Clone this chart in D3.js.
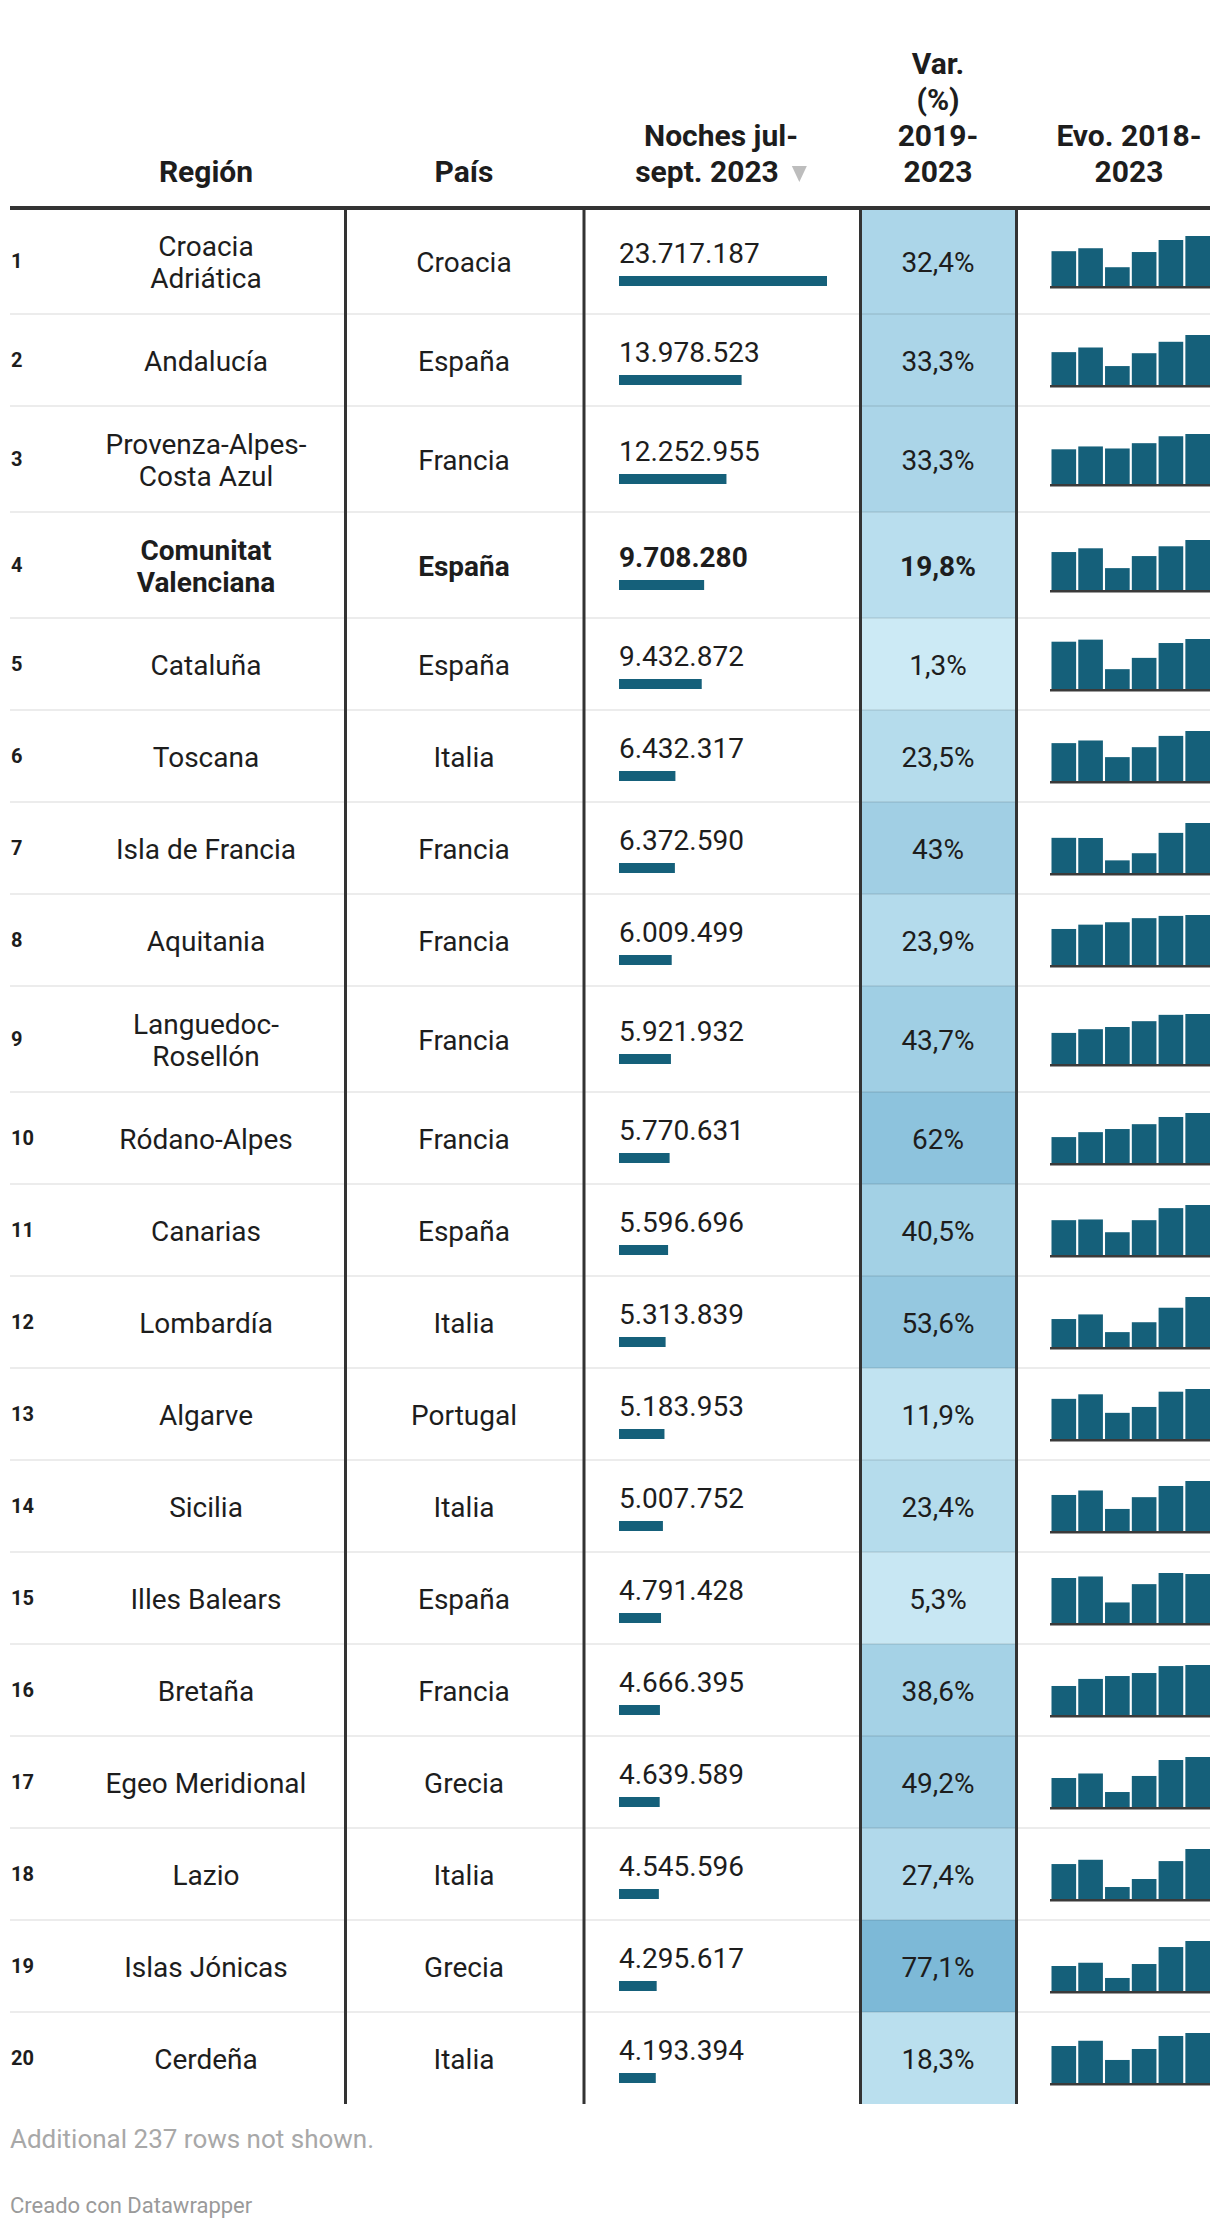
<!DOCTYPE html>
<html><head><meta charset="utf-8">
<script src="https://cdn.jsdelivr.net/npm/d3@7"></script>
<style>
body{margin:0;background:#fff;}
svg{display:block;font-family:Roboto, "Noto Sans", sans-serif;}
</style>
</head><body>
<svg id="chart" width="1220" height="2230"></svg>
<script>
// ---------------- DATA ----------------
const ranks = [1,2,3,4,5,6,7,8,9,10,11,12,13,14,15,16,17,18,19,20];
const regions = [
  "Croacia\nAdriática", "Andalucía", "Provenza-Alpes-\nCosta Azul", "Comunitat\nValenciana",
  "Cataluña", "Toscana", "Isla de Francia", "Aquitania", "Languedoc-\nRosellón", "Ródano-Alpes",
  "Canarias", "Lombardía", "Algarve", "Sicilia", "Illes Balears", "Bretaña",
  "Egeo Meridional", "Lazio", "Islas Jónicas", "Cerdeña"
];
const countries = [
  "Croacia","España","Francia","España","España","Italia","Francia","Francia","Francia","Francia",
  "España","Italia","Portugal","Italia","España","Francia","Grecia","Italia","Grecia","Italia"
];
const nights = [
  23717187, 13978523, 12252955, 9708280, 9432872, 6432317, 6372590, 6009499, 5921932, 5770631,
  5596696, 5313839, 5183953, 5007752, 4791428, 4666395, 4639589, 4545596, 4295617, 4193394
];
const variation = [
  32.4, 33.3, 33.3, 19.8, 1.3, 23.5, 43, 23.9, 43.7, 62,
  40.5, 53.6, 11.9, 23.4, 5.3, 38.6, 49.2, 27.4, 77.1, 18.3
];
const highlighted = ["Comunitat\nValenciana"];
const years = ["2018","2019","2020","2021","2022","2023"];
// Noches jul-sept (millones), 2018-2023, estimadas del gráfico
const evo = [
  [16.5, 17.9, 8.9, 16.1, 21.8, 23.7],
  [9.2, 10.5, 5.3, 8.9, 12.1, 14.0],
  [8.5, 9.2, 8.7, 10.0, 11.7, 12.25],
  [7.37, 8.10, 4.25, 6.59, 8.49, 9.71],
  [8.92, 9.31, 3.74, 5.87, 8.67, 9.43],
  [4.87, 5.21, 3.07, 4.35, 5.80, 6.43],
  [4.48, 4.46, 1.61, 2.52, 5.11, 6.37],
  [4.33, 4.85, 5.14, 5.63, 5.90, 6.01],
  [3.68, 4.12, 4.38, 5.07, 5.82, 5.92],
  [2.99, 3.56, 3.92, 4.48, 5.31, 5.77],
  [3.90, 3.98, 2.55, 3.90, 5.25, 5.60],
  [2.97, 3.46, 1.58, 2.63, 4.17, 5.31],
  [4.16, 4.63, 2.71, 3.32, 4.90, 5.18],
  [3.61, 4.06, 2.21, 3.39, 4.51, 5.01],
  [4.40, 4.55, 2.01, 3.80, 4.89, 4.79],
  [2.71, 3.37, 3.64, 3.92, 4.57, 4.67],
  [2.69, 3.11, 1.39, 2.88, 4.36, 4.64],
  [3.18, 3.57, 1.09, 1.82, 3.45, 4.55],
  [2.15, 2.43, 1.12, 2.32, 3.78, 4.30],
  [3.10, 3.54, 1.93, 2.85, 3.94, 4.19]
];
const headerRegion = ["Región"];
const headerCountry = ["País"];
const headerNights = ["Noches jul-", "sept. 2023"];
const headerVar = ["Var.", "(%)", "2019-", "2023"];
const headerEvo = ["Evo. 2018-", "2023"];
const footNote = "Additional 237 rows not shown.";
const credit = "Creado con Datawrapper";

// ---------------- LAYOUT ----------------
const svg = d3.select("#chart");
const left = 10, right = 1210;
const headerLineY = 208;
const colLines = [345.5, 584, 860.5, 1016.5];
const colRegionC = 206, colCountryC = 464, colNightsX = 619, colNightsC = 721, colVarC = 938, colEvoC = 1129;
const barColor = "#15607a";
const textColor = "#1d1d1d";
const ruleColor = "#333333";

const loc = d3.formatLocale({decimal: ",", thousands: ".", grouping: [3], currency: ["", "€"]});
const fmtInt = loc.format(",d");
const fmtPct = v => loc.format(".1~f")(v) + "%";

const rowH = regions.map(r => r.split("\n").length > 1 ? 106 : 92);
const rowTop = [];
let acc = headerLineY;
rowH.forEach(h => { rowTop.push(acc); acc += h; });
const tableBottom = acc;

const xBar = d3.scaleLinear().domain([0, d3.max(nights)]).range([0, 208]);
const color = d3.scaleLinear().domain([d3.min(variation), d3.max(variation)]).range(["#cceaf5", "#7db9d7"]);
const xSpark = d3.scaleBand().domain(years).range([1051.5, 1210]).paddingInner(0.08);

// ---------------- HEADER ----------------
const hdr = svg.append("g").attr("font-weight", 700).attr("font-size", 30).attr("fill", textColor);
const lastBase = 182, hLine = 36;
function headerBlock(lines, cx, arrow) {
  lines.forEach((t, i) => {
    const y = lastBase - (lines.length - 1 - i) * hLine;
    if (arrow && i === lines.length - 1) {
      const txt = hdr.append("text").attr("y", y).attr("text-anchor", "start").text(t);
      const tw = txt.node().getComputedTextLength();
      const gap = 13, aw = 15, total = tw + gap + aw;
      const x0 = cx - total / 2;
      txt.attr("x", x0);
      const ax = x0 + tw + gap;
      hdr.append("path")
        .attr("d", `M${ax},${y - 16}L${ax + aw},${y - 16}L${ax + aw / 2},${y}Z`)
        .attr("fill", "#bdbdbd");
    } else {
      hdr.append("text").attr("x", cx).attr("y", y).attr("text-anchor", "middle").text(t);
    }
  });
}
headerBlock(headerRegion, colRegionC);
headerBlock(headerCountry, colCountryC);
headerBlock(headerNights, colNightsC, true);
headerBlock(headerVar, colVarC);
headerBlock(headerEvo, colEvoC);

// ---------------- ROWS ----------------
const data = ranks.map((r, i) => ({
  rank: r, region: regions[i], country: countries[i], nights: nights[i], variation: variation[i],
  evo: evo[i], top: rowTop[i], h: rowH[i], bold: highlighted.includes(regions[i])
}));

// variation backgrounds
svg.append("g").selectAll("rect").data(data).join("rect")
  .attr("x", colLines[2]).attr("width", colLines[3] - colLines[2])
  .attr("y", d => d.top).attr("height", d => d.h)
  .attr("fill", d => color(d.variation));

// row separators
svg.append("g").selectAll("rect").data(data.slice(1)).join("rect")
  .attr("x", left).attr("width", right - left)
  .attr("y", d => d.top - 1).attr("height", 2)
  .attr("fill", "rgba(0,0,0,0.075)");

const rows = svg.append("g").selectAll("g").data(data).join("g")
  .attr("transform", d => `translate(0,${d.top + d.h / 2})`);

// rank
rows.append("text").attr("x", 11).attr("y", 7)
  .attr("font-size", 20).attr("font-weight", 700).attr("fill", textColor)
  .text(d => d.rank);

// region (multi-line)
rows.each(function(d) {
  const g = d3.select(this);
  const lines = d.region.split("\n");
  const t = g.append("text").attr("text-anchor", "middle").attr("font-size", 28)
    .attr("font-weight", d.bold ? 700 : 400).attr("fill", textColor);
  lines.forEach((ln, i) => {
    t.append("tspan").attr("x", colRegionC).attr("y", 10.5 + (i - (lines.length - 1) / 2) * 32).text(ln);
  });
});

// country
rows.append("text").attr("x", colCountryC).attr("y", 10.5).attr("text-anchor", "middle")
  .attr("font-size", 28).attr("font-weight", d => d.bold ? 700 : 400).attr("fill", textColor)
  .text(d => d.country);

// nights value + bar
rows.append("text").attr("x", colNightsX).attr("y", 2)
  .attr("font-size", 28).attr("font-weight", d => d.bold ? 700 : 400).attr("fill", textColor)
  .text(d => fmtInt(d.nights));
rows.append("rect").attr("x", colNightsX).attr("y", 15).attr("height", 10)
  .attr("width", d => xBar(d.nights)).attr("fill", barColor);

// variation text
rows.append("text").attr("x", colVarC).attr("y", 10.5).attr("text-anchor", "middle")
  .attr("font-size", 28).attr("font-weight", d => d.bold ? 700 : 400).attr("fill", textColor)
  .text(d => fmtPct(d.variation));

// sparklines
rows.each(function(d) {
  const g = d3.select(this);
  const y = d3.scaleLinear().domain([0, d3.max(d.evo)]).range([25, -25]);
  g.append("g").selectAll("rect").data(years.map((yr, k) => ({yr, v: d.evo[k]}))).join("rect")
    .attr("x", e => xSpark(e.yr)).attr("width", xSpark.bandwidth())
    .attr("y", e => y(e.v)).attr("height", e => y(0) - y(e.v))
    .attr("fill", barColor);
  g.append("rect").attr("x", 1050).attr("width", right - 1050).attr("y", y(0)).attr("height", 2.5).attr("fill", "#3a3a3a");
});

// header rule + column rules
svg.append("rect").attr("x", left).attr("width", right - left).attr("y", headerLineY - 2).attr("height", 4).attr("fill", ruleColor);
svg.append("g").selectAll("rect").data(colLines).join("rect")
  .attr("x", d => d - 1.5).attr("width", 3)
  .attr("y", headerLineY).attr("height", tableBottom - headerLineY)
  .attr("fill", ruleColor);

// ---------------- FOOTER ----------------
svg.append("text").attr("x", 10).attr("y", 2148).attr("font-size", 26).attr("fill", "#a8a8a8").text(footNote);
svg.append("text").attr("x", 10).attr("y", 2213).attr("font-size", 22).attr("fill", "#9a9a9a").text(credit);
</script>
</body></html>
